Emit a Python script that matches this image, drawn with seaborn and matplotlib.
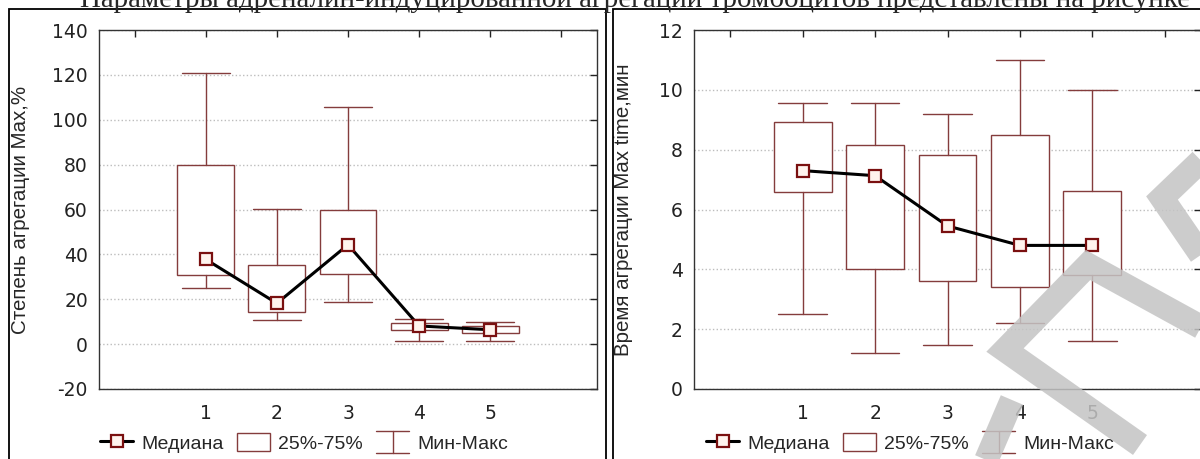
import matplotlib
matplotlib.use('Agg')
import matplotlib.pyplot as plt
import seaborn as sns
import pandas as pd
from matplotlib.lines import Line2D
from matplotlib.patches import Patch, Rectangle
from matplotlib.legend_handler import HandlerBase

groups = [1, 2, 3, 4, 5]
tick_labels = ['', '1', '2', '3', '4', '5', '']

# Степень агрегации Max, %
amp_min = [25, 10.7, 18.6, 1.6, 1.6]
amp_q1 = [30.8, 14.1, 31.3, 6.3, 5.0]
amp_med = [37.8, 18.2, 44.3, 8.1, 6.4]
amp_q3 = [80, 35.4, 60, 9.3, 8.0]
amp_max = [121, 60.4, 105.5, 11.3, 9.8]

# Время агрегации Max time, мин
time_min = [2.5, 1.2, 1.47, 2.2, 1.6]
time_q1 = [6.57, 4.0, 3.6, 3.4, 3.8]
time_med = [7.3, 7.13, 5.45, 4.8, 4.8]
time_q3 = [8.93, 8.17, 7.83, 8.5, 6.63]
time_max = [9.57, 9.57, 9.18, 11.0, 10.0]

title = 'Параметры адреналин-индуцированной агрегации тромбоцитов представлены на рисунке'
legend_labels = ['Медиана', '25%-75%', 'Мин-Макс']

W, H = 1200, 459
box_color = '#843c3c'
mark_edge = '#7a1010'
mark_face = '#fff4ee'

sns.set_style('white')
plt.rcParams['font.family'] = ['Liberation Sans', 'DejaVu Sans']
plt.rcParams['axes.unicode_minus'] = False


class WhiskerKey:
    pass


class WhiskerHandler(HandlerBase):
    def create_artists(self, legend, orig_handle, xdescent, ydescent,
                       width, height, fontsize, trans):
        x0, x1 = -xdescent, -xdescent + width
        xm = (x0 + x1) / 2
        y0, y1 = -ydescent - 0.15 * height, -ydescent + 1.15 * height
        kw = dict(color=box_color, linewidth=1, transform=trans)
        return [Line2D([xm, xm], [y0, y1], **kw),
                Line2D([x0, x1], [y0, y0], **kw),
                Line2D([x0, x1], [y1, y1], **kw)]


def draw_panel(ax, lo, q1, med, q3, hi, yticks, ylabel, legend_x):
    stats = [dict(whislo=a, q1=b, med=c, q3=d, whishi=e)
             for a, b, c, d, e in zip(lo, q1, med, q3, hi)]
    ax.bxp(stats, positions=groups, widths=0.8, capwidths=0.67,
           patch_artist=True, showfliers=False, manage_ticks=False,
           boxprops=dict(facecolor='white', edgecolor=box_color, linewidth=1),
           whiskerprops=dict(color=box_color, linewidth=1),
           capprops=dict(color=box_color, linewidth=1),
           medianprops=dict(linestyle='none'))
    df = pd.DataFrame({'группа': groups, 'медиана': med})
    sns.lineplot(data=df, x='группа', y='медиана', ax=ax, color='black',
                 linewidth=2.2, marker='s', markersize=8,
                 markerfacecolor=mark_face, markeredgecolor=mark_edge,
                 markeredgewidth=1.6, legend=False, zorder=5)

    ax.set_xlim(-0.5, 6.5)
    ax.set_xticks(range(7))
    ax.set_xticklabels(tick_labels)
    ax.set_ylim(yticks[0], yticks[-1])
    ax.set_yticks(yticks)
    ax.grid(axis='y', linestyle=':', color='#bdbdbd', linewidth=1)
    ax.tick_params(direction='in', top=True, right=True, length=5, width=1,
                   labelsize=13.5, colors='#222222')
    ax.tick_params(axis='x', pad=11)
    ax.tick_params(axis='y', pad=8)
    for lab in ax.get_xticklabels() + ax.get_yticklabels():
        lab.set_family('DejaVu Sans')
    for s in ax.spines.values():
        s.set_color('#333333')
        s.set_linewidth(1)
    ax.set_xlabel('')
    ax.set_ylabel(ylabel, fontsize=14.8)

    handles = [Line2D([], [], color='black', linewidth=2.2, marker='s',
                      markersize=8, markerfacecolor=mark_face,
                      markeredgecolor=mark_edge, markeredgewidth=1.6),
               Patch(facecolor='white', edgecolor=box_color, linewidth=1),
               WhiskerKey()]
    ax.legend(handles, legend_labels, handler_map={WhiskerKey: WhiskerHandler()},
              loc='center', bbox_to_anchor=(legend_x / W, 1 - 443 / H),
              bbox_transform=fig.transFigure, ncol=3, frameon=False,
              fontsize=14, handlelength=1.7, handleheight=1.0,
              handletextpad=0.4, columnspacing=0.7)


fig = plt.figure(figsize=(W / 100, H / 100), dpi=100)
ax1 = fig.add_axes([99 / W, 70 / H, 498 / W, 359 / H])
ax2 = fig.add_axes([694 / W, 70 / H, 507 / W, 359 / H])

draw_panel(ax1, amp_min, amp_q1, amp_med, amp_q3, amp_max,
           list(range(-20, 141, 20)), 'Степень агрегации Max,%', 304)
draw_panel(ax2, time_min, time_q1, time_med, time_q3, time_max,
           list(range(0, 13, 2)), 'Время агрегации Max time,мин', 910)
ax1.yaxis.set_label_coords(-0.139, 0.5)
ax2.yaxis.set_label_coords(-0.12, 0.5)

# рамки панелей
for x0, x1 in [(9, 606), (613, 1215)]:
    fig.add_artist(Rectangle((x0 / W, -0.05), (x1 - x0) / W, 1.05 - 9 / H,
                             transform=fig.transFigure, fill=False,
                             edgecolor='black', linewidth=1.3))

# обрезанная строка текста сверху
fig.text(635 / W, 1 - 7 / H, title, ha='center', va='baseline',
         fontsize=20.9, family='Liberation Serif')

# водяной знак
for pts in [[(1140, 445), (1005, 350), (1088, 265), (1210, 332)],
            [(982, 470), (1012, 400)],
            [(1210, 268), (1162, 198), (1210, 152)]]:
    xs = [p[0] / W for p in pts]
    ys = [1 - p[1] / H for p in pts]
    fig.add_artist(Line2D(xs, ys, transform=fig.transFigure, color='#c4c4c4',
                          alpha=0.85, linewidth=17.5, solid_joinstyle='miter',
                          solid_capstyle='butt', zorder=10))

fig.savefig('out.png', dpi=100)
